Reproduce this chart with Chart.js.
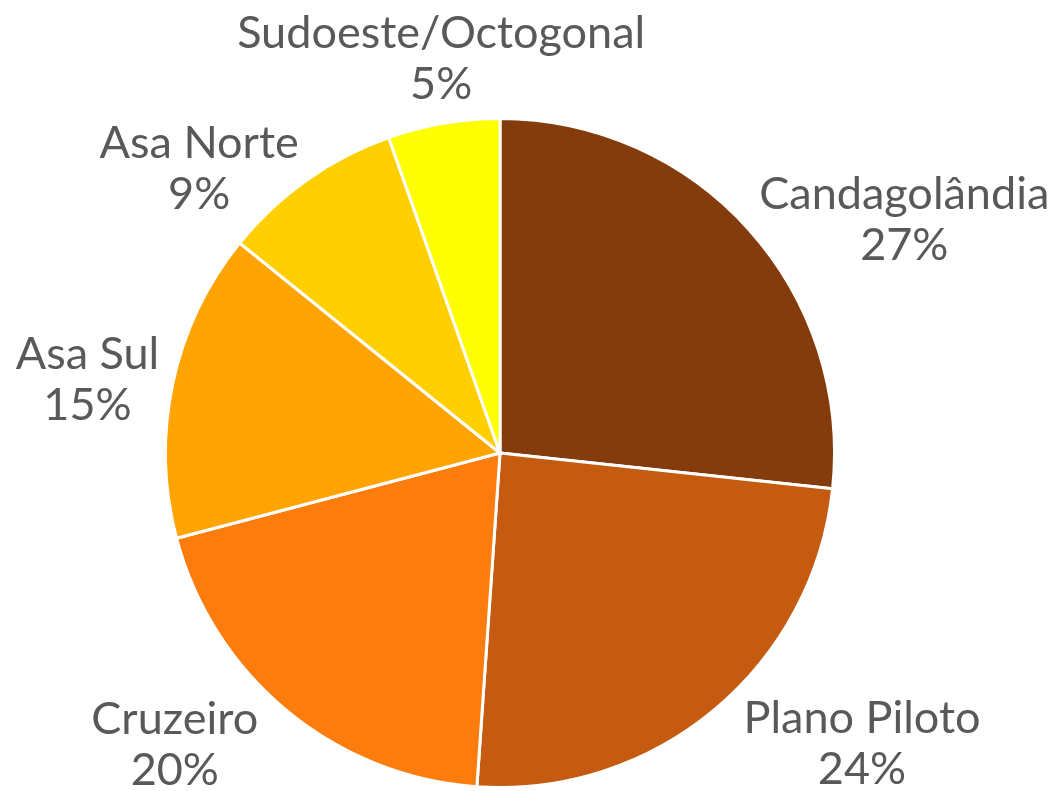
<!DOCTYPE html>
<html>
<head>
<meta charset="utf-8">
<script src="https://cdn.jsdelivr.net/npm/chart.js@4"></script>
<style>
  html, body { margin: 0; padding: 0; background: #fff; }
  #wrap { width: 1064px; height: 791px; position: relative; }
</style>
</head>
<body>
<div id="wrap"><canvas id="chart"></canvas></div>
<script>
// data (share of each region, in %)
const regions = ['Candagolândia', 'Plano Piloto', 'Cruzeiro', 'Asa Sul', 'Asa Norte', 'Sudoeste/Octogonal'];
const shares = [26.7, 24.4, 19.8, 14.9, 8.8, 5.4];
const sliceColors = ['#843C0C', '#C55A11', '#FD7C0E', '#FFA402', '#FFCF00', '#FFFF00'];

const labelFont = '45px Lato, "Open Sans", sans-serif';
const labelColor = '#595959';

// draws "name / xx%" outside each slice, roughly like Excel's outside-end labels
const outsideLabels = {
    id: 'outsideLabels',
    afterDraw(chart) {
        const ctx = chart.ctx;
        const meta = chart.getDatasetMeta(0);
        const total = shares.reduce((a, b) => a + b, 0);
        ctx.save();
        ctx.font = labelFont;
        ctx.fillStyle = labelColor;
        ctx.textAlign = 'center';
        ctx.textBaseline = 'middle';
        const lineH = 51;

        meta.data.forEach((arc, i) => {
            const p = arc.getProps(['x', 'y', 'startAngle', 'endAngle', 'outerRadius'], true);
            const mid = (p.startAngle + p.endAngle) / 2;
            const ux = Math.cos(mid);
            const uy = Math.sin(mid);
            const dist = p.outerRadius + 14 + Math.max(0, uy) * 40;
            const px = p.x + ux * dist;
            const py = p.y + uy * dist;

            const lines = [regions[i], Math.round(shares[i] / total * 100) + '%'];
            const w = Math.max(...lines.map(t => ctx.measureText(t).width));
            const h = lineH * lines.length;

            let cx, cy;
            if (Math.abs(uy) > 0.9) {
                cx = px;
                cy = py + Math.sign(uy) * h / 2;
            } else {
                cx = px + Math.sign(ux) * w / 2;
                cy = py;
            }
            lines.forEach((t, k) => {
                ctx.fillText(t, cx, cy - h / 2 + lineH / 2 + k * lineH);
            });
        });
        ctx.restore();
    }
};

new Chart(document.getElementById('chart'), {
    type: 'pie',
    data: {
        labels: regions,
        datasets: [{
            data: shares,
            backgroundColor: sliceColors,
            borderColor: '#ffffff',
            borderWidth: 3
        }]
    },
    options: {
        responsive: true,
        maintainAspectRatio: false,
        animation: false,
        layout: { padding: { left: 0, right: 64, top: 117, bottom: 2 } },
        plugins: {
            legend: { display: false },
            tooltip: { enabled: false }
        }
    },
    plugins: [outsideLabels]
});
</script>
</body>
</html>
